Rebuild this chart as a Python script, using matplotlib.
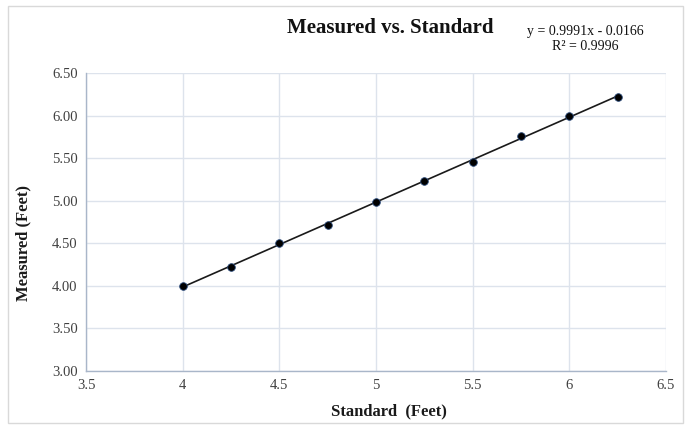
import matplotlib
matplotlib.use("Agg")
import matplotlib.pyplot as plt
from matplotlib.patches import Rectangle
import numpy as np

standard = [4.0, 4.25, 4.5, 4.75, 5.0, 5.25, 5.5, 5.75, 6.0, 6.25]
measured = [4.00, 4.22, 4.50, 4.72, 4.98, 5.23, 5.46, 5.76, 5.99, 6.22]
x_ticks = [3.5, 4, 4.5, 5, 5.5, 6, 6.5]
x_tick_labels = ["3.5", "4", "4.5", "5", "5.5", "6", "6.5"]
y_ticks = [3.0, 3.5, 4.0, 4.5, 5.0, 5.5, 6.0, 6.5]
y_tick_labels = ["3.00", "3.50", "4.00", "4.50", "5.00", "5.50", "6.00", "6.50"]

serif = "Liberation Serif"
fig = plt.figure(figsize=(6.85, 4.26), dpi=100)
ax = fig.add_axes([86/685, 55/426, 580/685, 298/426])

x = np.array(standard)
y = np.array(measured)
coef = np.polyfit(x, y, 1)
xl = np.array([x.min(), x.max()])
ax.plot(xl, np.polyval(coef, xl), color="#1a1a1a", lw=1.2, zorder=2)
ax.plot(x, y, "o", color="black", markersize=5.5, markeredgecolor="#2a4a7a",
        markeredgewidth=0.6, zorder=3)

ax.set_xlim(3.5, 6.5)
ax.set_ylim(3.0, 6.5)
ax.set_xticks(x_ticks)
ax.set_xticklabels(x_tick_labels)
ax.set_yticks(y_ticks)
ax.set_yticklabels(y_tick_labels)
ax.grid(True, color="#dde3ec", lw=1.0, zorder=0)
ax.set_axisbelow(True)
for s in ["top", "right"]:
    ax.spines[s].set_visible(False)
for s in ["left", "bottom"]:
    ax.spines[s].set_color("#a9b6c9")
    ax.spines[s].set_linewidth(1.0)
ax.tick_params(length=0, pad=6, labelsize=10.5, labelcolor="#404040")
for lab in ax.get_xticklabels() + ax.get_yticklabels():
    lab.set_fontfamily(serif)

ax.set_xlabel("Standard  (Feet)", fontfamily=serif, fontweight="bold",
              fontsize=12, color="#1a1a1a")
ax.set_ylabel("Measured (Feet)", fontfamily=serif, fontweight="bold",
              fontsize=12, color="#1a1a1a")
ax.xaxis.set_label_coords(0.523, -0.11)
ax.yaxis.set_label_coords(-0.094, 0.43)

fig.text(390/685, 1 - 28/426, "Measured vs. Standard", fontfamily=serif,
         fontweight="bold", fontsize=15, ha="center", va="center", color="#111111")
fig.text(585/685, 1 - 31/426, "y = 0.9991x - 0.0166", fontfamily=serif,
         fontsize=10, ha="center", va="center", color="#111111")
fig.text(585/685, 1 - 46/426, "R² = 0.9996", fontfamily=serif,
         fontsize=10, ha="center", va="center", color="#111111")

fig.patches.append(Rectangle((8/685, 3/426), 675/685, 417/426, transform=fig.transFigure,
                             fill=False, edgecolor="#d9d9d9", lw=1.0))

fig.savefig("out.png", dpi=100)
